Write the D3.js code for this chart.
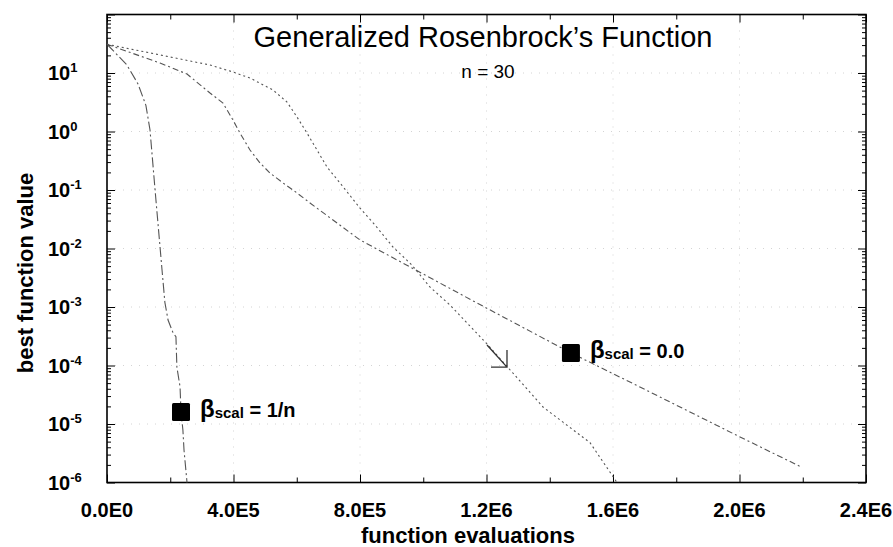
<!DOCTYPE html>
<html>
<head>
<meta charset="utf-8">
<script src="https://cdn.jsdelivr.net/npm/d3@7"></script>
<style>
  body { margin: 0; background: #fff; }
  svg text { font-family: "Liberation Sans", Arial, Helvetica, sans-serif; fill: #000; }
  .tick text { display: none; }
  .axis path { display: none; }
  .axis line { stroke: #000; stroke-width: 1; }
</style>
</head>
<body>
<script>
// Generalized Rosenbrock's Function, n = 30
// best function value vs. function evaluations

// beta_scal = 1/n
var scal1nEvals = [0, 63000, 98000, 123000, 136000, 152000, 174000, 183000, 193000, 209000, 218000,
                   221000, 231000, 234000, 240000, 243500, 253000];
var scal1nBest  = [31, 13.7, 6.5, 2.8, 1.06, 0.1, 4.3e-3, 1.2e-3, 6e-4, 3.6e-4, 3.1e-4,
                   9.4e-5, 4.3e-5, 1.6e-5, 7.9e-6, 3.6e-6, 1.0e-6];

// beta_scal = 0.0
var scal0Evals = [0, 167600, 253000, 325700, 366800, 398400, 420500, 452200, 483800, 515400, 556500,
                  600800, 641900, 714600, 800000, 964400, 1170000, 1467000, 1685000, 2001600, 2190000];
var scal0Best  = [31, 14.8, 9.6, 4.55, 3.07, 1.57, 0.94, 0.483, 0.29, 0.195, 0.132,
                  0.089, 0.060, 0.0307, 0.014, 4.64e-3, 1.17e-3, 1.64e-4, 4.3e-5, 6.0e-6, 1.9e-6];

// third run (unlabelled, dotted)
var thirdEvals = [0, 325700, 398400, 452200, 524900, 569200, 600800, 632400, 664000, 695600, 736700,
                  800000, 847400, 904300, 964400, 1021000, 1084600, 1204700, 1378700, 1527300, 1612700];
var thirdBest  = [31, 13.7, 10.4, 8.2, 5.12, 3.19, 1.77, 0.94, 0.483, 0.247, 0.132,
                  0.049, 0.0252, 0.0106, 5.2e-3, 2.2e-3, 1.08e-3, 2.24e-4, 1.95e-5, 4.8e-6, 1.0e-6];

// labelled markers
var markerEvals = [234000, 1467000];
var markerBest  = [1.6e-5, 1.64e-4];
var markerText  = ["1/n", "0.0"];

// arrow on the dotted run
var arrowEvals = [1201600, 1264800];
var arrowBest  = [2.24e-4, 9.4e-5];

// axis ticks
var xLabelTicks = [0, 400000, 800000, 1200000, 1600000, 2000000, 2400000];
var xLabelText  = ["0.0E0", "4.0E5", "8.0E5", "1.2E6", "1.6E6", "2.0E6", "2.4E6"];
var xMinorTicks = [200000, 600000, 1000000, 1400000, 1800000, 2200000];
var yExponents  = [1, 0, -1, -2, -3, -4, -5, -6];

var w = 893;
var h = 547;
var padL = 107, padR = 866, padT = 14.5, padB = 482.5;

var xScale = d3.scaleLinear()
    .domain([0, 2400000])
    .range([padL, padR]);

var yScale = d3.scaleLog()
    .domain([1e-6, 1e2])
    .range([padB, padT]);

var svg = d3.select("body")
    .append("svg")
    .attr("width", w)
    .attr("height", h);

// faint dotted grid
svg.append("g")
    .selectAll("line")
    .data(xLabelTicks.slice(1, -1))
    .enter().append("line")
    .attr("x1", function(d) { return xScale(d); })
    .attr("x2", function(d) { return xScale(d); })
    .attr("y1", padT)
    .attr("y2", padB)
    .style("stroke", "#d4d4d4")
    .style("stroke-dasharray", "1,7");

svg.append("g")
    .selectAll("line")
    .data(yExponents.slice(0, -1))
    .enter().append("line")
    .attr("x1", padL)
    .attr("x2", padR)
    .attr("y1", function(d) { return yScale(Math.pow(10, d)); })
    .attr("y2", function(d) { return yScale(Math.pow(10, d)); })
    .style("stroke", "#d4d4d4")
    .style("stroke-dasharray", "1,7");

// log minor tick values
var yMinor = [];
for (var e = -6; e < 2; e++) {
    for (var m = 2; m < 10; m++) yMinor.push(m * Math.pow(10, e));
}
var yMajor = yExponents.map(function(d) { return Math.pow(10, d); }).concat([100]);

// axes, ticks pointing inward
function addAxis(axis, tr) {
    svg.append("g")
        .attr("class", "axis")
        .attr("transform", tr)
        .call(axis);
}
addAxis(d3.axisBottom(xScale).tickValues(xLabelTicks).tickSize(-8), "translate(0," + padB + ")");
addAxis(d3.axisBottom(xScale).tickValues(xMinorTicks).tickSize(-5), "translate(0," + padB + ")");
addAxis(d3.axisTop(xScale).tickValues(xLabelTicks).tickSize(-8), "translate(0," + padT + ")");
addAxis(d3.axisTop(xScale).tickValues(xMinorTicks).tickSize(-5), "translate(0," + padT + ")");
addAxis(d3.axisLeft(yScale).tickValues(yMajor).tickSize(-8), "translate(" + padL + ",0)");
addAxis(d3.axisLeft(yScale).tickValues(yMinor).tickSize(-4), "translate(" + padL + ",0)");
addAxis(d3.axisRight(yScale).tickValues(yMajor).tickSize(-8), "translate(" + padR + ",0)");
addAxis(d3.axisRight(yScale).tickValues(yMinor).tickSize(-4), "translate(" + padR + ",0)");

// frame
svg.append("rect")
    .attr("x", padL)
    .attr("y", padT)
    .attr("width", padR - padL)
    .attr("height", padB - padT)
    .style("fill", "none")
    .style("stroke", "#000")
    .style("stroke-width", 1.6);

// x tick labels
svg.append("g")
    .selectAll("text")
    .data(xLabelTicks)
    .enter().append("text")
    .attr("x", function(d) { return xScale(d); })
    .attr("y", 517)
    .style("text-anchor", "middle")
    .style("font-size", "20px")
    .style("font-weight", "bold")
    .text(function(d, i) { return xLabelText[i]; });

// y tick labels 10^k
var yl = svg.append("g")
    .selectAll("text")
    .data(yExponents)
    .enter().append("text")
    .attr("x", 48)
    .attr("y", function(d) { return yScale(Math.pow(10, d)) + 7; })
    .style("font-size", "20px")
    .style("font-weight", "bold");
yl.append("tspan").text("10");
yl.append("tspan")
    .attr("dy", -8)
    .style("font-size", "13px")
    .text(function(d) { return d; });

// axis titles
svg.append("text")
    .attr("x", 468)
    .attr("y", 543)
    .style("text-anchor", "middle")
    .style("font-size", "22px")
    .style("font-weight", "bold")
    .text("function evaluations");

svg.append("text")
    .attr("transform", "translate(33,273) rotate(-90)")
    .style("text-anchor", "middle")
    .style("font-size", "22px")
    .style("font-weight", "bold")
    .text("best function value");

// titles
svg.append("text")
    .attr("x", 483)
    .attr("y", 47)
    .style("text-anchor", "middle")
    .style("font-size", "29px")
    .text("Generalized Rosenbrock\u2019s Function");

svg.append("text")
    .attr("x", 488)
    .attr("y", 78)
    .style("text-anchor", "middle")
    .style("font-size", "19px")
    .text("n = 30");

// curves
var line = d3.line()
    .x(function(d) { return xScale(d[0]); })
    .y(function(d) { return yScale(d[1]); });

function zip(a, b) { return a.map(function(d, i) { return [d, b[i]]; }); }

var runs = [
    {pts: zip(scal1nEvals, scal1nBest), dash: "10,3,2,3"},
    {pts: zip(scal0Evals, scal0Best), dash: "6,3,2,3"},
    {pts: zip(thirdEvals, thirdBest), dash: "2,3"}
];

svg.append("g")
    .selectAll("path")
    .data(runs)
    .enter().append("path")
    .attr("d", function(d) { return line(d.pts); })
    .style("fill", "none")
    .style("stroke", "#555")
    .style("stroke-width", 1.1)
    .style("stroke-dasharray", function(d) { return d.dash; });

// arrow
var ax0 = xScale(arrowEvals[0]), ay0 = yScale(arrowBest[0]);
var ax1 = xScale(arrowEvals[1]), ay1 = yScale(arrowBest[1]);
svg.append("path")
    .attr("d", "M" + ax0 + "," + ay0 + "L" + ax1 + "," + ay1 +
               "M" + ax1 + "," + (ay1 - 17) + "L" + ax1 + "," + ay1 + "L" + (ax1 - 16) + "," + ay1)
    .style("fill", "none")
    .style("stroke", "#333")
    .style("stroke-width", 1.3);

// markers with labels
var mk = svg.append("g")
    .selectAll("g")
    .data(markerText)
    .enter().append("g")
    .attr("transform", function(d, i) {
        return "translate(" + xScale(markerEvals[i]) + "," + yScale(markerBest[i]) + ")";
    });

mk.append("rect")
    .attr("x", -9)
    .attr("y", -9)
    .attr("width", 18)
    .attr("height", 18)
    .attr("rx", 1.5)
    .style("fill", "#000");

var lab = mk.append("text")
    .attr("x", 19)
    .attr("y", 5)
    .style("font-weight", "bold");
lab.append("tspan").style("font-size", "24px").text("\u03b2");
lab.append("tspan").attr("dy", 1).style("font-size", "15px").text("scal");
lab.append("tspan").attr("dy", -1).style("font-size", "20px").text(function(d) { return " = " + d; });
</script>
</body>
</html>
